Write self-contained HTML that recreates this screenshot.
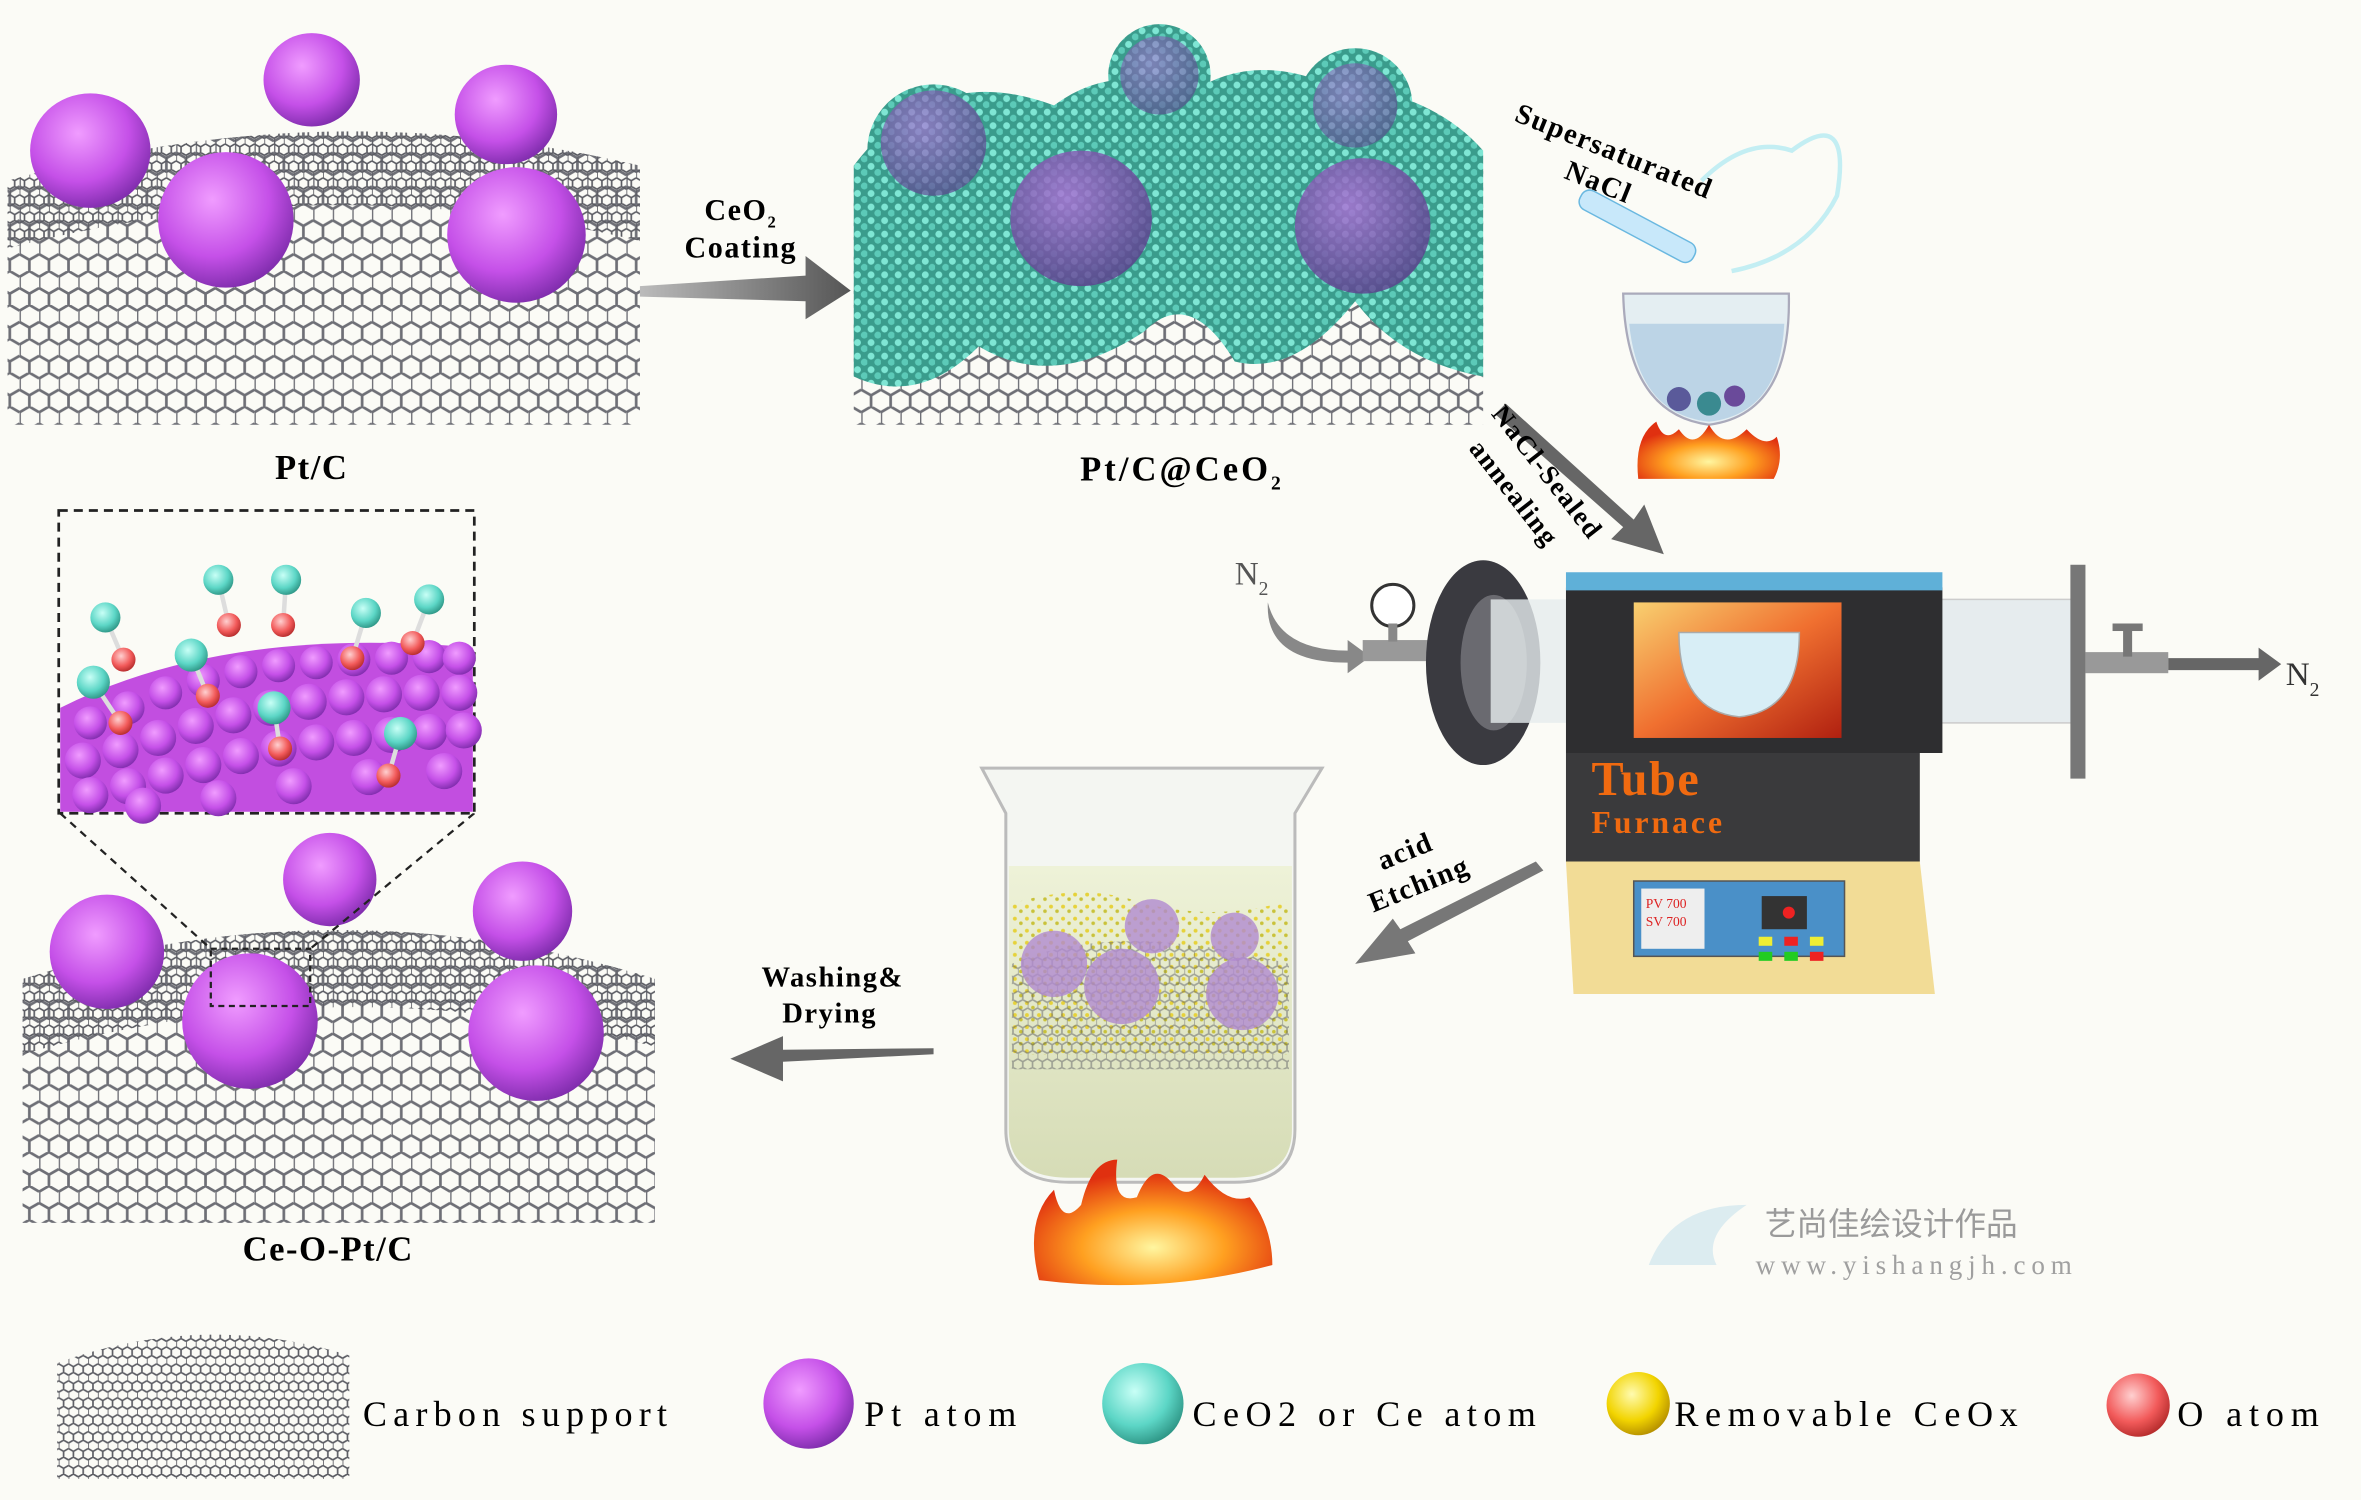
<!DOCTYPE html>
<html><head><meta charset="utf-8"><style>
html,body{margin:0;padding:0;background:#fbfbf6;}
svg{display:block}
text{font-family:"Liberation Serif",serif;}
</style></head><body>
<svg width="2361" height="1500" viewBox="0 0 1568 996" preserveAspectRatio="none" xmlns="http://www.w3.org/2000/svg">
<defs>
<pattern id="hex" width="13" height="22.5" patternUnits="userSpaceOnUse">
<path d="M0,3.75 L6.5,0 L13,3.75 M0,3.75 L0,11.25 L6.5,15 L13,11.25 M6.5,15 L6.5,22.5" fill="none" stroke="#6e6f76" stroke-width="1.8"/>
</pattern>
<pattern id="hexs" width="6.5" height="11.25" patternUnits="userSpaceOnUse">
<path d="M0,1.9 L3.25,0 L6.5,1.9 M0,1.9 L0,5.6 L3.25,7.5 L6.5,5.6 M3.25,7.5 L3.25,11.25" fill="none" stroke="#5a5b62" stroke-width="1.1"/>
</pattern>
<pattern id="teal" width="9" height="9" patternUnits="userSpaceOnUse">
<rect width="9" height="9" fill="#3a9c8c"/>
<circle cx="2.5" cy="2.5" r="2.3" fill="#7fe6d4"/><circle cx="7" cy="6.5" r="2.3" fill="#5ccab8"/>
</pattern>
<pattern id="yel" width="8" height="8" patternUnits="userSpaceOnUse">
<circle cx="2" cy="2" r="1.3" fill="#e6d23a"/><circle cx="6" cy="5" r="1.2" fill="#c9c23a"/>
</pattern>
<radialGradient id="pur" cx="0.4" cy="0.35" r="0.7"><stop offset="0" stop-color="#f09cff"/><stop offset="0.6" stop-color="#c550e8"/><stop offset="1" stop-color="#7a2aa8"/></radialGradient>
<radialGradient id="purt" cx="0.4" cy="0.35" r="0.7"><stop offset="0" stop-color="#b070d8"/><stop offset="1" stop-color="#5a3a8a"/></radialGradient>
<radialGradient id="tealb" cx="0.4" cy="0.35" r="0.7"><stop offset="0" stop-color="#c8fff6"/><stop offset="0.6" stop-color="#5cd6c6"/><stop offset="1" stop-color="#2a9080"/></radialGradient>
<radialGradient id="yelb" cx="0.4" cy="0.35" r="0.7"><stop offset="0" stop-color="#fffbb0"/><stop offset="0.6" stop-color="#f2d400"/><stop offset="1" stop-color="#b08a00"/></radialGradient>
<radialGradient id="redb" cx="0.4" cy="0.35" r="0.7"><stop offset="0" stop-color="#ffd0d0"/><stop offset="0.6" stop-color="#f25a5a"/><stop offset="1" stop-color="#b02828"/></radialGradient>
<radialGradient id="fire" cx="0.5" cy="0.7" r="0.6"><stop offset="0" stop-color="#fff6a0"/><stop offset="0.5" stop-color="#ffa020"/><stop offset="1" stop-color="#e03010"/></radialGradient>
<linearGradient id="win" x1="0" y1="0" x2="1" y2="1"><stop offset="0" stop-color="#f8d070"/><stop offset="0.5" stop-color="#f07030"/><stop offset="1" stop-color="#b02010"/></linearGradient>
<linearGradient id="arr" x1="0" x2="1"><stop offset="0" stop-color="#bbb"/><stop offset="1" stop-color="#555"/></linearGradient>
<linearGradient id="water" x1="0" y1="0" x2="0" y2="1"><stop offset="0" stop-color="#eef2d8"/><stop offset="1" stop-color="#d6dcb6"/></linearGradient>
</defs>

<!-- Panel 1 Pt/C -->
<path d="M5,120 Q215,60 425,110 L425,282 L5,282 Z" fill="url(#hex)"/>
<path d="M5,120 Q215,60 425,110 L425,160 Q215,110 5,165 Z" fill="url(#hexs)"/>
<ellipse cx="60" cy="100" rx="40" ry="38" fill="url(#pur)"/>
<ellipse cx="207" cy="53" rx="32" ry="31" fill="url(#pur)"/>
<ellipse cx="336" cy="76" rx="34" ry="33" fill="url(#pur)"/>
<ellipse cx="150" cy="146" rx="45" ry="45" fill="url(#pur)"/>
<ellipse cx="343" cy="156" rx="46" ry="45" fill="url(#pur)"/>
<text x="207" y="318" font-size="23" font-weight="bold" text-anchor="middle" letter-spacing="1">Pt/C</text>

<!-- Arrow 1 -->
<path d="M425,190 L535,183 L535,170 L565,193 L535,212 L535,200 L425,197 Z" fill="url(#arr)"/>
<text x="492" y="146" font-size="20" font-weight="bold" text-anchor="middle" letter-spacing="1">CeO<tspan font-size="11" dy="5">2</tspan></text>
<text x="492" y="171" font-size="20" font-weight="bold" text-anchor="middle" letter-spacing="1">Coating</text>

<!-- Panel 2 -->
<path d="M567,120 Q775,60 985,110 L985,282 L567,282 Z" fill="url(#hex)"/>
<path d="M567,110 Q620,40 700,70 Q740,40 790,62 Q830,35 880,55 Q950,60 985,100 L985,250 Q930,240 900,200 Q860,250 820,240 Q790,190 760,220 Q700,260 650,230 Q610,270 567,250 Z" fill="url(#teal)"/>
<circle cx="770" cy="50" r="34" fill="url(#teal)"/>
<circle cx="900" cy="70" r="38" fill="url(#teal)"/>
<circle cx="620" cy="100" r="44" fill="url(#teal)"/>
<ellipse cx="718" cy="145" rx="47" ry="45" fill="url(#purt)" opacity="0.8"/>
<ellipse cx="905" cy="150" rx="45" ry="45" fill="url(#purt)" opacity="0.8"/>
<ellipse cx="620" cy="95" rx="35" ry="35" fill="url(#purt)" opacity="0.65"/>
<ellipse cx="770" cy="50" rx="26" ry="26" fill="url(#purt)" opacity="0.55"/>
<ellipse cx="900" cy="70" rx="28" ry="28" fill="url(#purt)" opacity="0.55"/>
<text x="785" y="319" font-size="23" font-weight="bold" text-anchor="middle" letter-spacing="2">Pt/C@CeO<tspan font-size="13" dy="6">2</tspan></text>

<!-- Supersaturated NaCl -->
<text transform="translate(1005,80) rotate(22)" font-size="19" font-weight="bold" letter-spacing="1">Supersaturated</text>
<text transform="translate(1038,118) rotate(22)" font-size="19" font-weight="bold" letter-spacing="1">NaCl</text>
<rect x="1045" y="143" width="85" height="14" rx="6" transform="rotate(28 1087 150)" fill="#c8e8fa" stroke="#6ab8e0"/>
<path d="M1130,120 Q1160,90 1190,100 Q1230,70 1220,130 Q1200,170 1150,180" fill="none" stroke="#9ee6f2" stroke-width="3" opacity="0.6"/>
<path d="M1078,195 L1188,195 Q1190,275 1135,282 Q1080,275 1078,195 Z" fill="#e4eef2" stroke="#aab" stroke-width="1.5"/>
<path d="M1082,215 L1185,215 Q1182,275 1135,280 Q1088,275 1082,215 Z" fill="#bcd4e6"/>
<circle cx="1115" cy="265" r="8" fill="#5a5a9a"/><circle cx="1135" cy="268" r="8" fill="#3a8a90"/><circle cx="1152" cy="263" r="7" fill="#6a4a9a"/>
<path d="M1088,318 Q1085,290 1100,280 Q1105,295 1115,285 Q1125,300 1135,282 Q1145,300 1160,285 Q1172,298 1180,290 Q1185,305 1178,318 Z" fill="url(#fire)"/>

<!-- NaCl-Sealed annealing arrow -->
<path d="M1000,268 L1085,345 L1092,335 L1105,368 L1070,358 L1078,350 L993,275 Z" fill="#666"/>
<text transform="translate(990,275) rotate(52)" font-size="18" font-weight="bold" letter-spacing="1">NaCl-Sealed</text>
<text transform="translate(975,298) rotate(52)" font-size="18" font-weight="bold" letter-spacing="1">annealing</text>

<!-- Tube furnace -->
<text x="820" y="388" font-size="22" fill="#555">N<tspan font-size="13" dy="7">2</tspan></text>
<path d="M842,400 Q850,432 895,432 L895,425 L910,436 L895,447 L895,440 Q840,440 842,400 Z" fill="#888"/>
<rect x="905" y="425" width="50" height="14" fill="#999"/>
<circle cx="925" cy="402" r="14" fill="#fff" stroke="#333" stroke-width="2"/>
<rect x="922" y="414" width="6" height="12" fill="#888"/>
<ellipse cx="985" cy="440" rx="38" ry="68" fill="#3a3a40"/>
<ellipse cx="992" cy="440" rx="22" ry="45" fill="#6a6a70"/>
<rect x="990" y="398" width="60" height="82" fill="#e6ecee" opacity="0.8"/>
<rect x="1280" y="398" width="100" height="82" fill="#e6ecee" stroke="#ccc"/>
<rect x="1375" y="375" width="10" height="142" fill="#777"/>
<rect x="1385" y="433" width="55" height="14" fill="#999"/>
<rect x="1410" y="418" width="6" height="18" fill="#777"/><rect x="1403" y="414" width="20" height="5" fill="#777"/>
<path d="M1440,437 L1500,437 L1500,430 L1515,441 L1500,452 L1500,445 L1440,445 Z" fill="#666"/>
<text x="1518" y="455" font-size="22" fill="#333">N<tspan font-size="13" dy="7">2</tspan></text>
<path d="M1040,390 L1290,390 L1290,500 L1040,500 Z" fill="#2e2e30"/>
<path d="M1040,380 L1290,380 L1290,392 L1040,392 Z" fill="#5fb0d8"/>
<rect x="1085" y="400" width="138" height="90" fill="url(#win)"/>
<path d="M1115,420 L1195,420 Q1195,472 1155,476 Q1115,472 1115,420 Z" fill="#d8eef6" stroke="#aaa"/>
<path d="M1040,500 L1275,500 L1275,572 L1040,572 Z" fill="#3a3a3c"/>
<text x="1057" y="528" font-size="32" font-weight="bold" fill="#f06a10" letter-spacing="1">Tube</text>
<text x="1057" y="553" font-size="21" font-weight="bold" fill="#f06a10" letter-spacing="2">Furnace</text>
<path d="M1040,572 L1275,572 L1285,660 L1045,660 Z" fill="#f2dc96"/>
<rect x="1085" y="585" width="140" height="50" fill="#4a90c8" stroke="#555"/>
<rect x="1090" y="590" width="42" height="40" fill="#eee"/>
<text x="1093" y="603" font-size="9" fill="#d22">PV 700</text>
<text x="1093" y="615" font-size="9" fill="#d22">SV 700</text>
<rect x="1170" y="595" width="30" height="22" fill="#333"/><circle cx="1188" cy="606" r="4" fill="#e22"/>
<rect x="1168" y="622" width="9" height="6" fill="#ee3"/><rect x="1185" y="622" width="9" height="6" fill="#e22"/><rect x="1202" y="622" width="9" height="6" fill="#ee3"/>
<rect x="1168" y="632" width="9" height="6" fill="#2c2"/><rect x="1185" y="632" width="9" height="6" fill="#2c2"/><rect x="1202" y="632" width="9" height="6" fill="#e22"/>

<!-- acid etching arrow -->
<path d="M1025,578 L935,625 L940,633 L900,640 L925,610 L930,617 L1020,572 Z" fill="#777"/>
<text transform="translate(918,578) rotate(-22)" font-size="19" font-weight="bold" letter-spacing="1">acid</text>
<text transform="translate(912,606) rotate(-22)" font-size="19" font-weight="bold" letter-spacing="1">Etching</text>

<!-- Beaker -->
<path d="M652,510 L878,510 L860,540 L860,750 Q860,785 820,785 L710,785 Q668,785 668,750 L668,540 Z" fill="#f4f6f2" stroke="#bbb" stroke-width="2"/>
<path d="M670,575 L858,575 L858,750 Q858,782 820,782 L710,782 Q670,782 670,750 Z" fill="url(#water)"/>
<path d="M672,600 Q720,585 760,600 Q810,612 856,598 L856,700 L672,700 Z" fill="url(#yel)"/>
<path d="M672,640 Q740,610 856,640 L856,710 L672,710 Z" fill="url(#hexs)" opacity="0.5"/>
<circle cx="700" cy="640" r="22" fill="#b08ad0" opacity="0.8"/><circle cx="745" cy="655" r="25" fill="#b08ad0" opacity="0.8"/><circle cx="765" cy="615" r="18" fill="#b08ad0" opacity="0.8"/><circle cx="825" cy="660" r="24" fill="#b08ad0" opacity="0.8"/><circle cx="820" cy="622" r="16" fill="#b08ad0" opacity="0.8"/>
<path d="M690,850 Q680,810 700,790 Q705,815 718,800 Q725,770 742,770 Q738,800 755,795 Q765,770 778,785 Q790,800 800,780 Q815,800 830,795 Q845,815 845,840 Q770,860 690,850 Z" fill="url(#fire)"/>

<!-- Washing arrow -->
<path d="M620,700 L520,705 L520,718 L485,703 L520,688 L520,697 L620,696 Z" fill="#666"/>
<text x="553" y="655" font-size="19" font-weight="bold" text-anchor="middle" letter-spacing="1">Washing&amp;</text>
<text x="551" y="679" font-size="19" font-weight="bold" text-anchor="middle" letter-spacing="1">Drying</text>

<!-- Panel 3 Ce-O-Pt/C -->
<path d="M15,650 Q225,585 435,650 L435,812 L15,812 Z" fill="url(#hex)"/>
<path d="M15,650 Q225,585 435,650 L435,695 Q225,640 15,700 Z" fill="url(#hexs)"/>
<ellipse cx="71" cy="632" rx="38" ry="38" fill="url(#pur)"/>
<ellipse cx="219" cy="584" rx="31" ry="31" fill="url(#pur)"/>
<ellipse cx="347" cy="605" rx="33" ry="33" fill="url(#pur)"/>
<ellipse cx="166" cy="678" rx="45" ry="45" fill="url(#pur)"/>
<ellipse cx="356" cy="686" rx="45" ry="45" fill="url(#pur)"/>
<rect x="140" y="630" width="66" height="38" fill="none" stroke="#222" stroke-dasharray="4,3" stroke-width="1.5"/>
<line x1="40" y1="540" x2="140" y2="630" stroke="#222" stroke-dasharray="5,4" stroke-width="1.5"/>
<line x1="315" y1="540" x2="206" y2="630" stroke="#222" stroke-dasharray="5,4" stroke-width="1.5"/>
<text x="218" y="837" font-size="23" font-weight="bold" text-anchor="middle" letter-spacing="1">Ce-O-Pt/C</text>

<!-- Inset -->
<rect x="39" y="339" width="276" height="201" fill="#fbfbf6" stroke="#222" stroke-dasharray="6,4" stroke-width="1.8"/>
<path d="M40,470 Q150,415 314,430 L314,539 L40,539 Z" fill="#c24ee0"/>
<g fill="url(#pur)">
<circle cx="60" cy="480" r="11"/><circle cx="85" cy="470" r="11"/><circle cx="110" cy="460" r="11"/><circle cx="135" cy="452" r="11"/><circle cx="160" cy="446" r="11"/><circle cx="185" cy="442" r="11"/><circle cx="210" cy="440" r="11"/><circle cx="235" cy="438" r="11"/><circle cx="260" cy="437" r="11"/><circle cx="285" cy="436" r="11"/><circle cx="305" cy="437" r="11"/>
<circle cx="55" cy="505" r="12"/><circle cx="80" cy="498" r="12"/><circle cx="105" cy="490" r="12"/><circle cx="130" cy="482" r="12"/><circle cx="155" cy="475" r="12"/><circle cx="180" cy="470" r="12"/><circle cx="205" cy="466" r="12"/><circle cx="230" cy="463" r="12"/><circle cx="255" cy="461" r="12"/><circle cx="280" cy="460" r="12"/><circle cx="305" cy="460" r="12"/>
<circle cx="60" cy="528" r="12"/><circle cx="85" cy="522" r="12"/><circle cx="110" cy="515" r="12"/><circle cx="135" cy="508" r="12"/><circle cx="160" cy="502" r="12"/><circle cx="185" cy="497" r="12"/><circle cx="210" cy="493" r="12"/><circle cx="235" cy="490" r="12"/><circle cx="260" cy="488" r="12"/><circle cx="285" cy="486" r="12"/><circle cx="308" cy="485" r="12"/>
<circle cx="95" cy="535" r="12"/><circle cx="145" cy="530" r="12"/><circle cx="195" cy="522" r="12"/><circle cx="245" cy="516" r="12"/><circle cx="295" cy="512" r="12"/>
</g>
<g stroke="#ddd" stroke-width="3">
<line x1="70" y1="410" x2="82" y2="438"/><line x1="145" y1="385" x2="152" y2="415"/><line x1="190" y1="385" x2="188" y2="415"/><line x1="243" y1="407" x2="234" y2="437"/><line x1="285" y1="398" x2="274" y2="427"/><line x1="127" y1="435" x2="138" y2="462"/><line x1="62" y1="453" x2="80" y2="480"/><line x1="182" y1="470" x2="186" y2="497"/><line x1="266" y1="487" x2="258" y2="515"/>
</g>
<g>
<circle cx="70" cy="410" r="10" fill="url(#tealb)"/><circle cx="82" cy="438" r="8" fill="url(#redb)"/>
<circle cx="145" cy="385" r="10" fill="url(#tealb)"/><circle cx="152" cy="415" r="8" fill="url(#redb)"/>
<circle cx="190" cy="385" r="10" fill="url(#tealb)"/><circle cx="188" cy="415" r="8" fill="url(#redb)"/>
<circle cx="243" cy="407" r="10" fill="url(#tealb)"/><circle cx="234" cy="437" r="8" fill="url(#redb)"/>
<circle cx="285" cy="398" r="10" fill="url(#tealb)"/><circle cx="274" cy="427" r="8" fill="url(#redb)"/>
<circle cx="127" cy="435" r="11" fill="url(#tealb)"/><circle cx="138" cy="462" r="8" fill="url(#redb)"/>
<circle cx="62" cy="453" r="11" fill="url(#tealb)"/><circle cx="80" cy="480" r="8" fill="url(#redb)"/>
<circle cx="182" cy="470" r="11" fill="url(#tealb)"/><circle cx="186" cy="497" r="8" fill="url(#redb)"/>
<circle cx="266" cy="487" r="11" fill="url(#tealb)"/><circle cx="258" cy="515" r="8" fill="url(#redb)"/>
</g>

<!-- Watermark -->
<text x="1172" y="820" font-size="21" fill="#9a9a9a" font-family="'Noto Sans CJK SC',sans-serif">艺尚佳绘设计作品</text>
<text x="1166" y="846" font-size="18" fill="#a0a0a0" font-family="'Liberation Mono',monospace" textLength="210">www.yishangjh.com</text>
<path d="M1095,840 Q1110,800 1160,800 Q1130,820 1140,840 Z" fill="#cfe6ee" opacity="0.7"/>

<!-- Legend -->
<path d="M38,905 Q135,870 232,900 L232,982 L38,982 Z" fill="url(#hexs)"/>
<text x="241" y="947" font-size="24" textLength="202">Carbon support</text>
<circle cx="537" cy="932" r="30" fill="url(#pur)"/>
<text x="574" y="947" font-size="24" textLength="101">Pt atom</text>
<circle cx="759" cy="932" r="27" fill="url(#tealb)"/>
<text x="792" y="947" font-size="24" textLength="228">CeO2 or Ce atom</text>
<circle cx="1088" cy="932" r="21" fill="url(#yelb)"/>
<text x="1112" y="947" font-size="24" textLength="228">Removable CeOx</text>
<circle cx="1420" cy="933" r="21" fill="url(#redb)"/>
<text x="1446" y="947" font-size="24" textLength="94">O atom</text>
</svg>
</body></html>
